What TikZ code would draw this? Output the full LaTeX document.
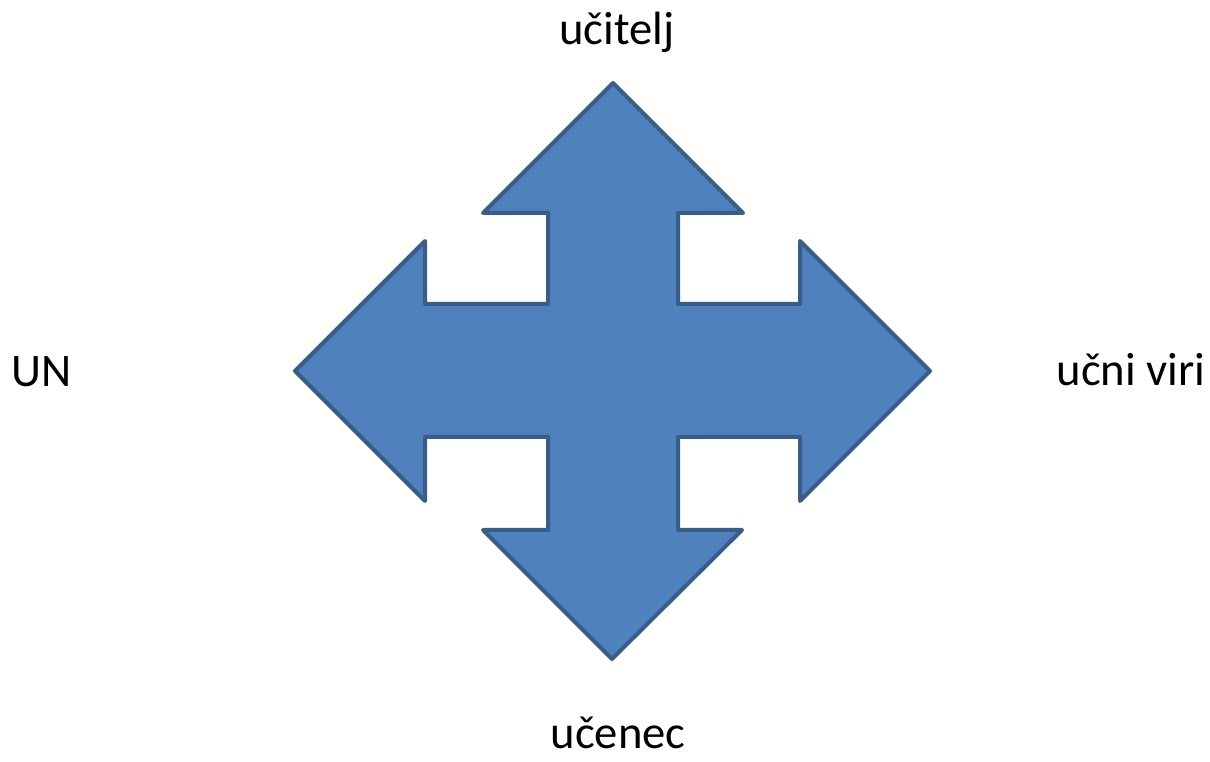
\documentclass[tikz,border=0pt]{standalone}
\usepackage{fontspec}
\setmainfont{Carlito}
\usetikzlibrary{positioning}

\begin{document}
\begin{tikzpicture}[x=0.75pt,y=-0.75pt,
    label/.style={draw=none,inner sep=0pt,anchor=base,font=\fontsize{35}{42}\selectfont}]
    \useasboundingbox (0,0) rectangle (1210,762);
    \coordinate (c) at (613,371);
    \draw[line width=3pt,line join=round,draw={rgb,255:red,56;green,93;blue,138},fill={rgb,255:red,79;green,129;blue,189}]
        (c) ++(0,-288) -- ++(130,130) -- ++(-65,0) -- ++(0,91) -- ++(122,0) -- ++(0,-63)
        -- ++(130,130) -- ++(-130,130) -- ++(0,-64) -- ++(-122,0) -- ++(0,93) -- ++(64,0)
        -- ++(-130,129) -- ++(-129,-129) -- ++(65,0) -- ++(0,-93) -- ++(-123,0) -- ++(0,64)
        -- ++(-130,-130) -- ++(130,-130) -- ++(0,63) -- ++(123,0) -- ++(0,-91) -- ++(-65,0)
        -- cycle;
    \node[label] (ucitelj) at (617,45) {učitelj};
    \node[label] (un) at (42,387) {UN};
    \node[label] (viri) at (1131,386) {učni viri};
    \node[label] (ucenec) at (618,748) {učenec};
\end{tikzpicture}
\end{document}
